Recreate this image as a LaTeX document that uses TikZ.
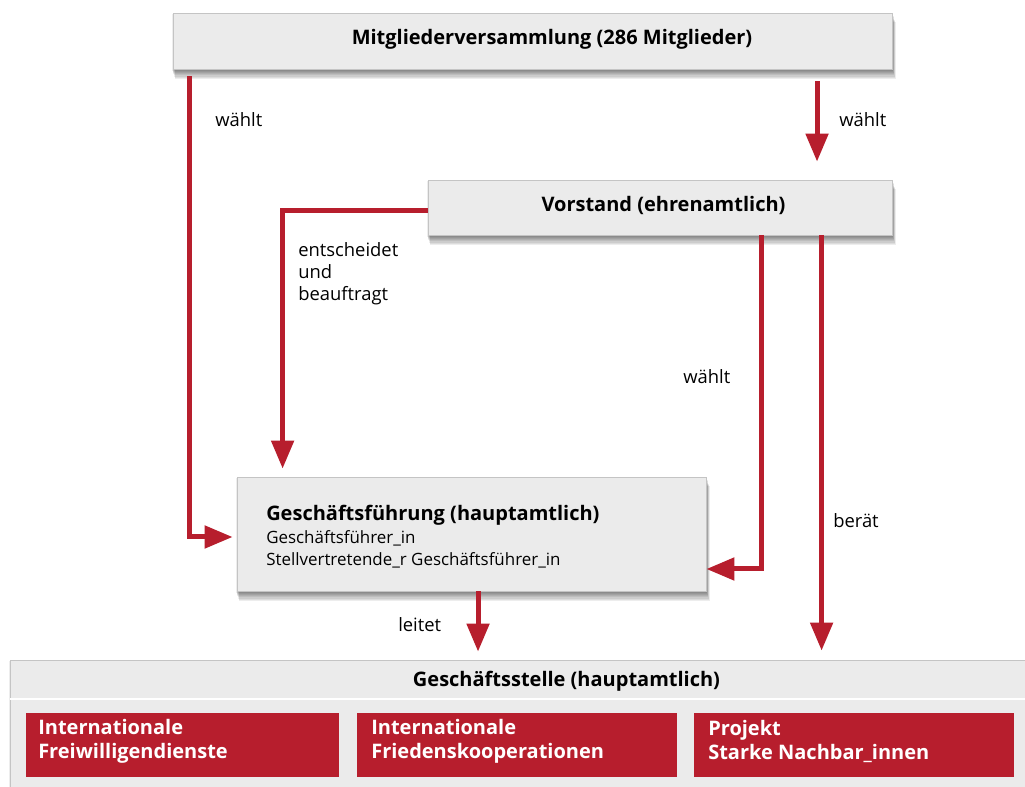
\documentclass[tikz,border=0pt]{standalone}
\usepackage{fontspec}
\setmainfont{Open Sans}
\usetikzlibrary{arrows.meta}
\pgfdeclarelayer{bg}
\pgfsetlayers{bg,main}
\definecolor{dred}{HTML}{B71E2D}
\definecolor{boxgray}{HTML}{EBEBEB}
\definecolor{boxline}{HTML}{C4C4C4}
\tikzset{
  box/.style={draw=boxline, line width=0.6pt, fill=boxgray, inner sep=0pt},
  shadowlayer/.style={fill=black, fill opacity=0.07, draw=none},
  title/.style={font=\fontsize{15}{18}\selectfont\bfseries},
  lbl/.style={font=\fontsize{13.8}{16.5}\selectfont, anchor=west, align=left, inner sep=0pt},
  redbox/.style={fill=dred, inner sep=0pt, minimum height=48pt},
  redtxt/.style={font=\fontsize{15}{18}\selectfont\bfseries, text=white, anchor=west, align=left, inner sep=0pt},
  arr/.style={draw=dred, line width=3.75pt, -{Triangle[width=16.5pt,length=21pt]}},
}
\begin{document}
\begin{tikzpicture}[x=0.75pt,y=-0.75pt]
\useasboundingbox (0,0) rectangle (1025,787);
% boxes
\node[box, minimum width=539.25pt, minimum height=42pt] (top) at (532.5,41) {};
\node[title] (toptxt) at (552,39) {Mitgliederversammlung (286 Mitglieder)};
\node[box, minimum width=348pt, minimum height=41.25pt] (V) at (660,207.5) {};
\node[title] (Vtxt) at (663.5,205) {Vorstand (ehrenamtlich)};
\node[box, minimum width=351.75pt, minimum height=85.5pt] (GF) at (471.5,534) {};
\node[lbl, anchor=north west, font=\fontsize{12.7}{16.5}\selectfont] (GFtxt) at (266,505)
  {{\fontsize{15}{18}\selectfont\bfseries Geschäftsführung (hauptamtlich)}\\[1pt]
   Geschäftsführer\_in\\
   Stellvertretende\_r Geschäftsführer\_in};
\begin{scope}
\clip (0,0) rectangle (1025,787);
\node[box, minimum width=776.25pt, minimum height=105pt] (GS) at (527.5,730) {};
\draw[white, line width=1.8pt] (GS.west |- 0,699) -- (GS.east |- 0,699);
\end{scope}
\node[title] (GStxt) at (566.5,681) {Geschäftsstelle (hauptamtlich)};
% shadows
\begin{pgfonlayer}{bg}
\fill[white] (0,0) rectangle (1025,787);
\foreach \b in {top,V,GF}{
  \foreach \k in {1,...,8}{
    \fill[shadowlayer] ([xshift=-0.6pt+\k*0.3pt, yshift=-\k*0.9pt]\b.south west) rectangle ([xshift=\k*0.3pt, yshift=-\k*0.9pt]\b.north east);
  }
}
\foreach \k in {1,...,8}{
  \fill[shadowlayer] ([xshift=-0.6pt+\k*0.3pt, yshift=-\k*0.9pt]GS.north west) rectangle (1025,787);
}
\end{pgfonlayer}
% red boxes
\node[redbox, minimum width=234.75pt] (R1) at (182.5,745) {};
\node[redbox, minimum width=240pt] (R2) at (517,745) {};
\node[redbox, minimum width=240pt] (R3) at (854,745) {};
\node[redtxt] (R1t) at (38,741.5) {Internationale\\Freiwilligendienste};
\node[redtxt] (R2t) at (371,741.5) {Internationale\\Friedenskooperationen};
\node[redtxt] (R3t) at (708,741.5) {Projekt\\Starke Nachbar\_innen};
% connectors
\draw[arr, shorten >=3pt] ([xshift=12.75pt,yshift=-5.25pt]top.south west) |- ([yshift=-2.25pt]GF.west);
\draw[arr, shorten <=9pt, shorten >=13.5pt] ([xshift=213.4pt]top.south) -- ([xshift=213.4pt]top.south |- V.north);
\draw[arr, shorten >=6pt] ([yshift=-1.9pt]V.west) -| ([xshift=34.5pt]GF.north west);
\draw[arr] ([xshift=250.5pt]V.south west) |- ([yshift=-26.25pt]GF.east);
\draw[arr, shorten >=6.75pt] ([xshift=295.5pt]V.south west) -- ([xshift=295.5pt]V.south west |- GS.north);
\draw[arr, shorten >=6pt] ([xshift=4.9pt]GF.south) -- ([xshift=4.9pt]GF.south |- GS.north);
% labels
\node[lbl] (l1) at (215,120) {wählt};
\node[lbl] (l2) at (839,120) {wählt};
\node[lbl] (l3) at (298,274) {entscheidet\\und\\beauftragt};
\node[lbl] (l4) at (683,377) {wählt};
\node[lbl] (l5) at (833,521) {berät};
\node[lbl] (l6) at (398,625) {leitet};
\end{tikzpicture}
\end{document}
